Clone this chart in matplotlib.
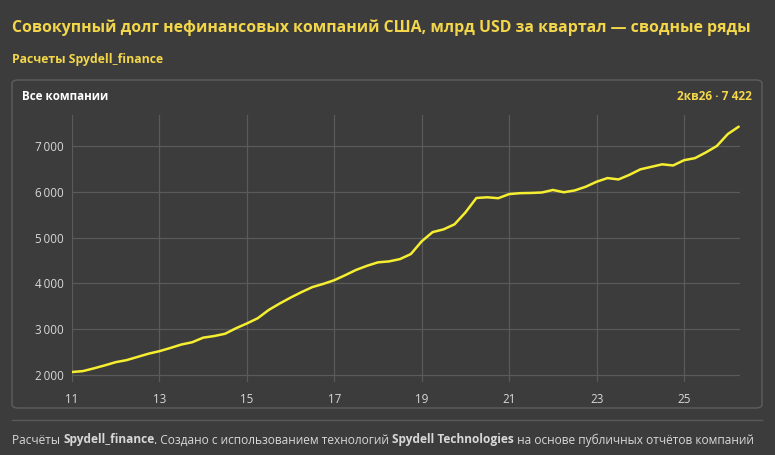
import matplotlib
matplotlib.use("Agg")
import matplotlib.pyplot as plt
from matplotlib.patches import FancyBboxPatch
from matplotlib.lines import Line2D

# quarterly debt, bn USD, Q1 2011 .. Q2 2026
years = list(range(2011, 2027))
debt = [
    2065, 2085, 2145, 2210,
    2280, 2325, 2395, 2465,
    2520, 2590, 2665, 2715,
    2815, 2850, 2900, 3020,
    3125, 3240, 3420, 3560,
    3690, 3810, 3920, 3990,
    4070, 4180, 4295, 4385,
    4460, 4480, 4530, 4640,
    4920, 5120, 5180, 5290,
    5550, 5865, 5880, 5860,
    5950, 5970, 5975, 5985,
    6040, 5990, 6030, 6110,
    6220, 6300, 6270, 6370,
    6490, 6545, 6600, 6575,
    6690, 6735, 6860, 7000,
    7260, 7422,
]
x_ticks = [11, 13, 15, 17, 19, 21, 23, 25]
y_ticks = [2000, 3000, 4000, 5000, 6000, 7000]

# x position: two-digit year + quarter fraction
xs = []
for y in years:
    for q in range(4):
        xs.append(y - 2000 + q / 4)
xs = xs[:len(debt)]

BG = "#3c3c3c"
GRID = "#5a5a5a"
YELLOW = "#f3d64a"
LINE = "#f6ee30"
TXT = "#d8d8d8"
FONT = ["Open Sans", "DejaVu Sans"]

W, H = 775, 455
fig = plt.figure(figsize=(W / 100, H / 100), dpi=100, facecolor=BG)
plt.rcParams["font.family"] = FONT


def fx(px):
    return px / W


def fy(py):
    return 1 - py / H


# titles
fig.text(fx(12), fy(28), "Совокупный долг нефинансовых компаний США, млрд USD за квартал — сводные ряды",
         color=YELLOW, fontsize=11.4, fontweight="bold", va="center", ha="left")
fig.text(fx(12), fy(60), "Расчеты Spydell_finance", color=YELLOW, fontsize=8.8,
         fontweight="bold", va="center", ha="left")

# panel
panel = FancyBboxPatch((fx(12), fy(408)), fx(762) - fx(12), fy(80) - fy(408),
                       boxstyle="round,pad=0,rounding_size=0.008", transform=fig.transFigure,
                       facecolor="none", edgecolor="#5e5e5e", linewidth=1.0)
fig.patches.append(panel)
fig.text(fx(22), fy(97), "Все компании", color="white", fontsize=8.4,
         fontweight="bold", va="center", ha="left")
fig.text(fx(752), fy(97), "2кв26 · 7 422", color=YELLOW, fontsize=8.6,
         fontweight="bold", va="center", ha="right")

# plot area
ax = fig.add_axes([fx(72), fy(382), fx(740) - fx(72), fy(115) - fy(382)])
ax.set_facecolor(BG)
ax.plot(xs, debt, color=LINE, linewidth=1.8, solid_joinstyle="round",
        solid_capstyle="round", zorder=3)
ax.set_xlim(11, 26.28)
ax.set_ylim(1847, 7677)
ax.set_xticks(x_ticks)
ax.set_xticklabels([str(t) for t in x_ticks])
ax.set_yticks(y_ticks)
ax.set_yticklabels([f"{t:,}".replace(",", "\u2009") for t in y_ticks])
ax.grid(True, color=GRID, linewidth=0.9)
ax.set_axisbelow(True)
for s in ax.spines.values():
    s.set_visible(False)
ax.tick_params(length=0, colors=TXT, labelsize=8.4, pad=6)
ax.tick_params(axis="x", pad=8)

# separator
fig.add_artist(Line2D([fx(12), fx(762)], [fy(420), fy(420)], color="#5a5a5a", linewidth=1.0))

# footer with bold pieces
pieces = [
    ("Расчёты ", "normal"),
    ("Spydell_finance", "bold"),
    (". Создано с использованием технологий ", "normal"),
    ("Spydell Technologies", "bold"),
    (" на основе публичных отчётов компаний", "normal"),
]
fig.canvas.draw()
r = fig.canvas.get_renderer()
xpos = 12
for txt, wt in pieces:
    t = fig.text(fx(xpos), fy(440), txt, color=TXT, fontsize=8.55, fontweight=wt,
                 va="center", ha="left")
    bb = t.get_window_extent(renderer=r)
    xpos += bb.width

fig.savefig("out.png", dpi=100, facecolor=BG)
